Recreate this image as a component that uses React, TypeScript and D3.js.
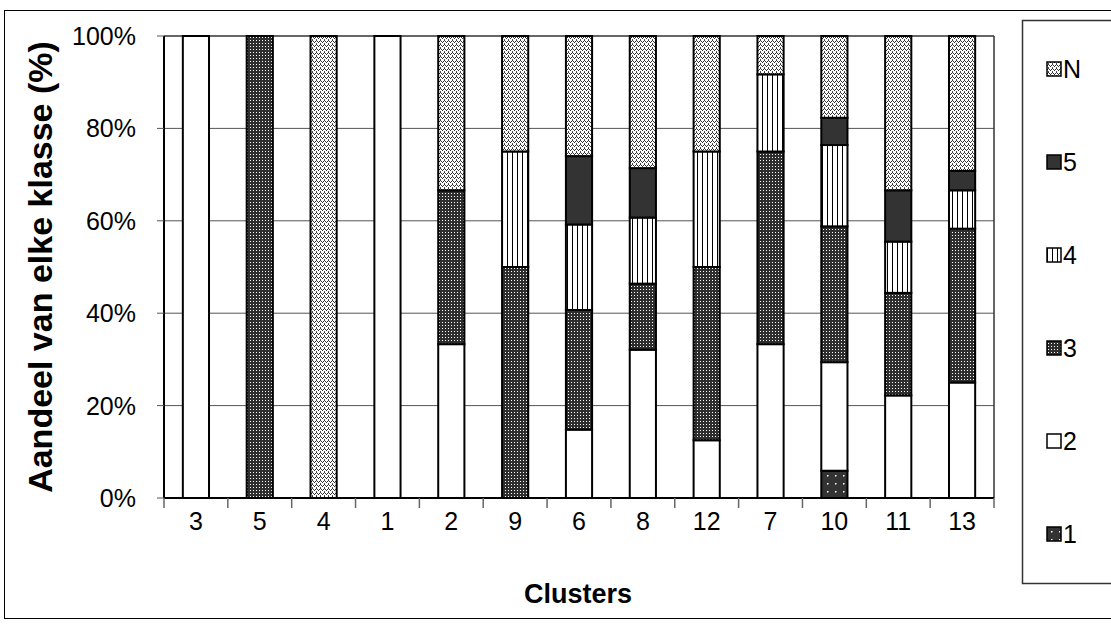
import React from 'react';
import * as d3 from 'd3';

const clusters = ['3', '5', '4', '1', '2', '9', '6', '8', '12', '7', '10', '11', '13'];
const class1 = [0, 0, 0, 0, 0, 0, 0, 0, 0, 0, 5.9, 0, 0];
const class2 = [100, 0, 0, 100, 33.3, 0, 14.8, 32.1, 12.5, 33.3, 23.5, 22.2, 25];
const class3 = [0, 100, 0, 0, 33.3, 50, 25.9, 14.3, 37.5, 41.7, 29.4, 22.2, 33.3];
const class4 = [0, 0, 0, 0, 0, 25, 18.5, 14.3, 25, 16.7, 17.6, 11.1, 8.3];
const class5 = [0, 0, 0, 0, 0, 0, 14.8, 10.7, 0, 0, 5.9, 11.1, 4.2];
const classN = [0, 0, 100, 0, 33.4, 25, 26.0, 28.6, 25, 8.3, 17.7, 33.4, 29.2];

const seriesKeys = ['1', '2', '3', '4', '5', 'N'];
const seriesValues = [class1, class2, class3, class4, class5, classN];
const yTicks = [0, 20, 40, 60, 80, 100];
const legendOrder = ['N', '5', '4', '3', '2', '1'];

const FONT = '"Liberation Sans", Arial, sans-serif';

const fills: Record<string, string> = {
  '1': 'url(#p1)',
  '2': '#ffffff',
  '3': 'url(#p3)',
  '4': 'url(#p4)',
  '5': '#333333',
  N: 'url(#pN)',
};

export default function App() {
  const left = 164, right = 994, top = 36, bottom = 498;
  const x = d3.scaleBand<string>().domain(clusters).range([left, right]).paddingInner(0.59).paddingOuter(0.295);
  const xb = d3.scaleBand<string>().domain(clusters).range([left, right]);
  const y = d3.scaleLinear().domain([0, 100]).range([bottom, top]);

  const table = clusters.map((c, i) => {
    const row: any = { cluster: c };
    seriesKeys.forEach((k, j) => (row[k] = seriesValues[j][i]));
    return row;
  });
  const stacked = d3.stack<any>().keys(seriesKeys)(table);

  return (
    <svg width={1111} height={624} style={{ position: 'absolute', left: 0, top: 0, background: '#fff' }}>
      <defs>
        <pattern id="p3" width={3} height={3} patternUnits="userSpaceOnUse">
          <rect width={3} height={3} fill="#2e2e2e" />
          <rect x={1} y={1} width={1} height={1} fill="#fff" />
        </pattern>
        <pattern id="p1" width={8} height={8} patternUnits="userSpaceOnUse">
          <rect width={8} height={8} fill="#333" />
          <rect x={3} y={3} width={1.5} height={1.5} fill="#fff" />
        </pattern>
        <pattern id="p4" width={5} height={5} patternUnits="userSpaceOnUse">
          <rect width={5} height={5} fill="#fff" />
          <rect x={2} y={0} width={1} height={5} fill="#000" />
        </pattern>
        <pattern id="pN" width={4} height={4} patternUnits="userSpaceOnUse">
          <rect width={4} height={4} fill="#fff" />
          <rect x={0} y={0} width={1} height={1} fill="#333" />
          <rect x={1} y={1} width={1} height={1} fill="#333" />
          <rect x={3} y={1} width={1} height={1} fill="#333" />
          <rect x={2} y={2} width={1} height={1} fill="#333" />
          <rect x={0} y={3} width={1} height={1} fill="#555" />
        </pattern>
      </defs>

      {/* outer frame */}
      <rect x={4.5} y={10.5} width={1120} height={608} fill="none" stroke="#000" strokeWidth={1} />

      {/* gridlines */}
      {yTicks.filter((t) => t > 0 && t < 100).map((t) => (
        <line key={t} x1={left} x2={right} y1={y(t)} y2={y(t)} stroke="#555" strokeWidth={1} />
      ))}
      {/* plot border top/right */}
      <line x1={left} x2={right} y1={top} y2={top} stroke="#333" strokeWidth={1.5} />
      <line x1={right} x2={right} y1={top} y2={bottom} stroke="#333" strokeWidth={1.5} />

      {/* bars */}
      {stacked.map((s) => (
        <g key={s.key}>
          {s.map((d, i) =>
            d[1] - d[0] > 0 ? (
              <rect
                key={i}
                x={x(clusters[i])}
                width={x.bandwidth()}
                y={y(d[1])}
                height={y(d[0]) - y(d[1])}
                fill={fills[s.key]}
                stroke="#000"
                strokeWidth={2}
              />
            ) : null
          )}
        </g>
      ))}

      {/* y axis */}
      <line x1={left} x2={left} y1={top} y2={bottom} stroke="#000" strokeWidth={2} />
      {yTicks.map((t) => (
        <g key={t}>
          <line x1={left - 7} x2={left} y1={y(t)} y2={y(t)} stroke="#555" strokeWidth={1} />
          <text x={136} y={y(t)} dy="0.36em" textAnchor="end" fontFamily={FONT} fontSize={25} fill="#000">
            {t}%
          </text>
        </g>
      ))}
      {/* x axis */}
      <line x1={left} x2={right} y1={bottom} y2={bottom} stroke="#000" strokeWidth={2} />
      {clusters.map((c) => (
        <line key={'t' + c} x1={xb(c)! + xb.bandwidth()} x2={xb(c)! + xb.bandwidth()} y1={bottom} y2={bottom + 10} stroke="#666" strokeWidth={1.5} />
      ))}
      <line x1={left} x2={left} y1={bottom} y2={bottom + 10} stroke="#666" strokeWidth={1.5} />
      {clusters.map((c) => (
        <text key={'l' + c} x={xb(c)! + xb.bandwidth() / 2} y={530} textAnchor="middle" fontFamily={FONT} fontSize={25} fill="#000">
          {c}
        </text>
      ))}
      <text x={578} y={603} textAnchor="middle" fontFamily={FONT} fontSize={27} fontWeight="bold" fill="#000">
        Clusters
      </text>
      <text
        transform={`translate(52, ${(top + bottom) / 2}) rotate(-90)`}
        textAnchor="middle"
        fontFamily={FONT}
        fontSize={34}
        fontWeight="bold"
        fill="#000"
      >
        Aandeel van elke klasse (%)
      </text>

      {/* legend */}
      <rect x={1022.5} y={20.5} width={120} height={563} fill="#fff" stroke="#333" strokeWidth={1.5} />
      {legendOrder.map((k, i) => {
        const cy = 69 + i * 93;
        return (
          <g key={k}>
            <rect x={1047} y={cy - 7} width={14} height={14} fill={fills[k]} stroke="#000" strokeWidth={1.5} />
            <text x={1063} y={cy} dy="0.36em" fontFamily={FONT} fontSize={25} fill="#000">
              {k}
            </text>
          </g>
        );
      })}
    </svg>
  );
}
